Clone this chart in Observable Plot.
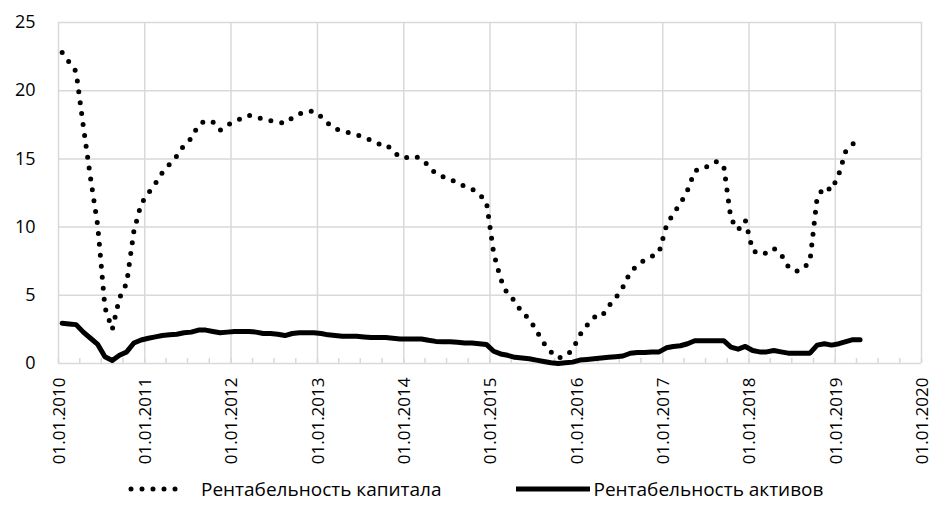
<!DOCTYPE html>
<html><head><meta charset="utf-8">
<script src="https://cdn.jsdelivr.net/npm/d3@7"></script>
<script src="https://cdn.jsdelivr.net/npm/@observablehq/plot@0.6"></script>
<style>
body{margin:0;background:#fff;font-family:"Open Sans",sans-serif;}
#legend{display:flex;justify-content:flex-start;align-items:center;height:38px;font-size:19px;color:#000;padding-left:128px;}
.item{display:flex;align-items:center;}
.item svg{display:block;}
</style></head><body><div id="chart"></div><div id="legend"></div>
<script>
// Monthly observations, Jan 2010 – Apr 2019
const firstMonth = new Date(Date.UTC(2010, 0, 1));
const afterLastMonth = new Date(Date.UTC(2019, 4, 1));
const months = d3.utcMonths(firstMonth, afterLastMonth);

const seriesNames = ["Рентабельность капитала", "Рентабельность активов"];

// Рентабельность капитала (ROE), %
const roe = [
  22.8, 22.1, 21.4, 17.4, 13.6, 10.1, 4.1, 2.5, 4.8, 5.9, 9.7, 11.7,
  12.5, 13.2, 14.0, 14.6, 15.2, 16.0, 16.5, 17.5, 17.8, 17.7, 17.1, 17.5,
  17.7, 18.0, 18.2, 18.1, 17.9, 17.8, 17.7, 17.6, 18.0, 18.3, 18.5, 18.5,
  18.1, 17.6, 17.2, 17.05, 16.9, 16.75, 16.6, 16.35, 16.1, 16.1, 15.6, 15.1,
  15.1, 15.2, 15.0, 14.5, 13.9, 13.7, 13.55, 13.2, 13.0, 12.8, 12.4, 11.9,
  8.1, 6.2, 5.05, 4.6, 3.7, 3.3, 2.4, 1.5, 0.85, 0.4, 0.55, 1.0,
  2.1, 2.8, 3.4, 3.4, 4.2, 4.8, 5.6, 6.7, 7.2, 7.6, 7.85, 8.15,
  10.1, 11.0, 11.7, 12.7, 14.1, 14.4, 14.45, 14.8, 14.5, 10.6, 9.8, 10.5,
  8.3, 8.0, 8.1, 8.45, 8.0, 7.1, 6.75, 6.9, 7.5, 12.2, 12.95, 12.7,
  13.9, 15.6, 16.1, 16.3
];

// Рентабельность активов (ROA), %
const roa = [
  2.95, 2.9, 2.85, 2.3, 1.85, 1.4, 0.5, 0.22, 0.6, 0.85, 1.5, 1.72,
  1.85, 1.95, 2.05, 2.1, 2.15, 2.25, 2.3, 2.45, 2.45, 2.35, 2.25, 2.3,
  2.35, 2.35, 2.35, 2.3, 2.2, 2.2, 2.15, 2.05, 2.2, 2.25, 2.25, 2.25,
  2.2, 2.1, 2.05, 2.0, 2.0, 2.0, 1.95, 1.9, 1.9, 1.9, 1.85, 1.8,
  1.8, 1.8, 1.8, 1.7, 1.62, 1.6, 1.6, 1.55, 1.5, 1.5, 1.45, 1.4,
  0.9, 0.7, 0.6, 0.45, 0.4, 0.35, 0.25, 0.15, 0.05, 0.0, 0.05, 0.1,
  0.25, 0.3, 0.35, 0.4, 0.45, 0.5, 0.55, 0.75, 0.8, 0.8, 0.85, 0.85,
  1.15, 1.25, 1.3, 1.45, 1.67, 1.67, 1.67, 1.67, 1.67, 1.2, 1.05, 1.25,
  0.95, 0.85, 0.85, 0.95, 0.85, 0.76, 0.76, 0.76, 0.76, 1.35, 1.45, 1.35,
  1.45, 1.6, 1.75, 1.75
];

const yTicks = [0, 5, 10, 15, 20, 25];
const axisStart = new Date(Date.UTC(2010, 0, 1));
const axisEnd = new Date(Date.UTC(2020, 0, 1));
const yearTicks = d3.utcYear.range(axisStart, d3.utcDay.offset(axisEnd, 1));
const quarterTicks = d3.utcMonth.every(3).range(axisStart, d3.utcDay.offset(axisEnd, 1));

// each monthly category is drawn in the middle of its month
const midMonth = d => new Date((+d + +d3.utcMonth.offset(d, 1)) / 2);
const data = months.map((m, i) => ({date: midMonth(m), roe: roe[i], roa: roa[i]}));

const grid = "#d9d9d9";
const chart = Plot.plot({
  width: 935,
  height: 470,
  marginLeft: 58,
  marginRight: 14,
  marginTop: 22,
  marginBottom: 107,
  style: {fontFamily: '"Open Sans", sans-serif', fontSize: "17px", color: "#000", background: "#fff", overflow: "visible"},
  x: {type: "utc", domain: [axisStart, axisEnd]},
  y: {domain: [0, 25]},
  marks: [
    Plot.gridY(yTicks, {stroke: grid, strokeOpacity: 1, strokeWidth: 1.5}),
    Plot.gridX(yearTicks, {stroke: grid, strokeOpacity: 1, strokeWidth: 1.5}),
    Plot.axisX(quarterTicks, {tickSize: -5, tickFormat: () => "", stroke: grid, strokeWidth: 1.5, label: null}),
    Plot.axisX(yearTicks, {tickSize: 0, tickPadding: 14, tickRotate: -90, tickFormat: d3.utcFormat("%d.%m.%Y"), fontSize: 17, dx: 1, label: null}),
    Plot.axisY(yTicks, {tickSize: 0, tickPadding: 23, fontSize: 18, label: null}),
    Plot.line(data, {x: "date", y: "roa", stroke: "#000", strokeWidth: 5, strokeLinejoin: "round"}),
    Plot.line(data, {x: "date", y: "roe", stroke: "#000", strokeWidth: 5, strokeDasharray: "0 11", strokeLinecap: "round", strokeLinejoin: "round"})
  ]
});
document.getElementById("chart").appendChild(chart);

const legend = document.getElementById("legend");
legend.innerHTML = `
  <div class="item">
    <svg width="62" height="10"><line x1="3" y1="5" x2="58" y2="5" stroke="#000" stroke-width="5" stroke-dasharray="0 11" stroke-linecap="round"/></svg>
    <span style="margin-left:11px">${seriesNames[0]}</span>
  </div>
  <div class="item" style="margin-left:75px">
    <svg width="74" height="10"><line x1="0" y1="5" x2="74" y2="5" stroke="#000" stroke-width="5" stroke-linecap="round"/></svg>
    <span style="margin-left:3px">${seriesNames[1]}</span>
  </div>`;
</script>
</body></html>
